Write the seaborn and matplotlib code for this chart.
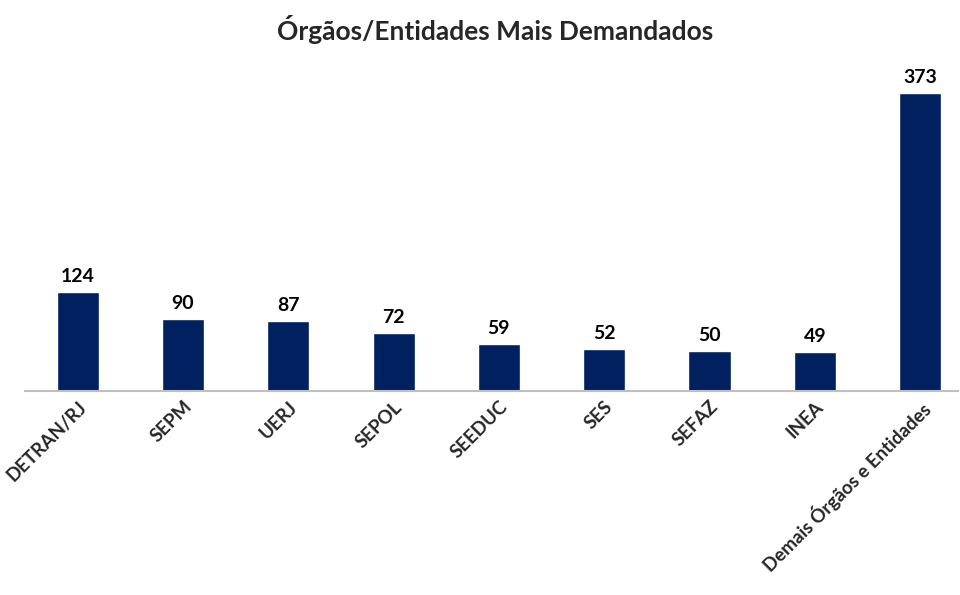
import matplotlib
matplotlib.use("Agg")
import matplotlib.pyplot as plt
import pandas as pd
import seaborn as sns

# Data
orgaos = ['DETRAN/RJ', 'SEPM', 'UERJ', 'SEPOL', 'SEEDUC', 'SES', 'SEFAZ', 'INEA',
          'Demais Órgãos e Entidades']
demandas = [124, 90, 87, 72, 59, 52, 50, 49, 373]

df = pd.DataFrame({'orgao': orgaos, 'demandas': demandas})

sns.set_style('white')
plt.rcParams['font.family'] = ['Lato', 'DejaVu Sans']

fig = plt.figure(figsize=(9.6, 5.95), dpi=100)
ax = fig.add_axes([25 / 960, 1 - 391 / 595, (958 - 25) / 960, (391 - 60) / 595])

sns.barplot(data=df, x='orgao', y='demandas', color='#002060', width=0.4,
            saturation=1, ax=ax)

for i, v in enumerate(demandas):
    ax.text(i, v + 9, str(v), ha='center', va='bottom', fontsize=14,
            fontweight='bold', color='black')

ax.set_xlim(-0.5, 8.36)
ax.set_ylim(0, 414)
ax.set_xlabel('')
ax.set_ylabel('')
ax.set_yticks([])
for s in ['top', 'right', 'left']:
    ax.spines[s].set_visible(False)
ax.spines['bottom'].set_color('#BFBFBF')
ax.spines['bottom'].set_linewidth(1.5)
ax.tick_params(axis='x', length=0, pad=5)
plt.setp(ax.get_xticklabels(), rotation=45, ha='right', rotation_mode='anchor',
         fontsize=13.5, fontweight='bold')

fig.text(495 / 960, 1 - 30 / 595, 'Órgãos/Entidades Mais Demandados',
         ha='center', va='center', fontsize=19, fontweight='bold')

fig.savefig('out.png', dpi=100, facecolor='white')
